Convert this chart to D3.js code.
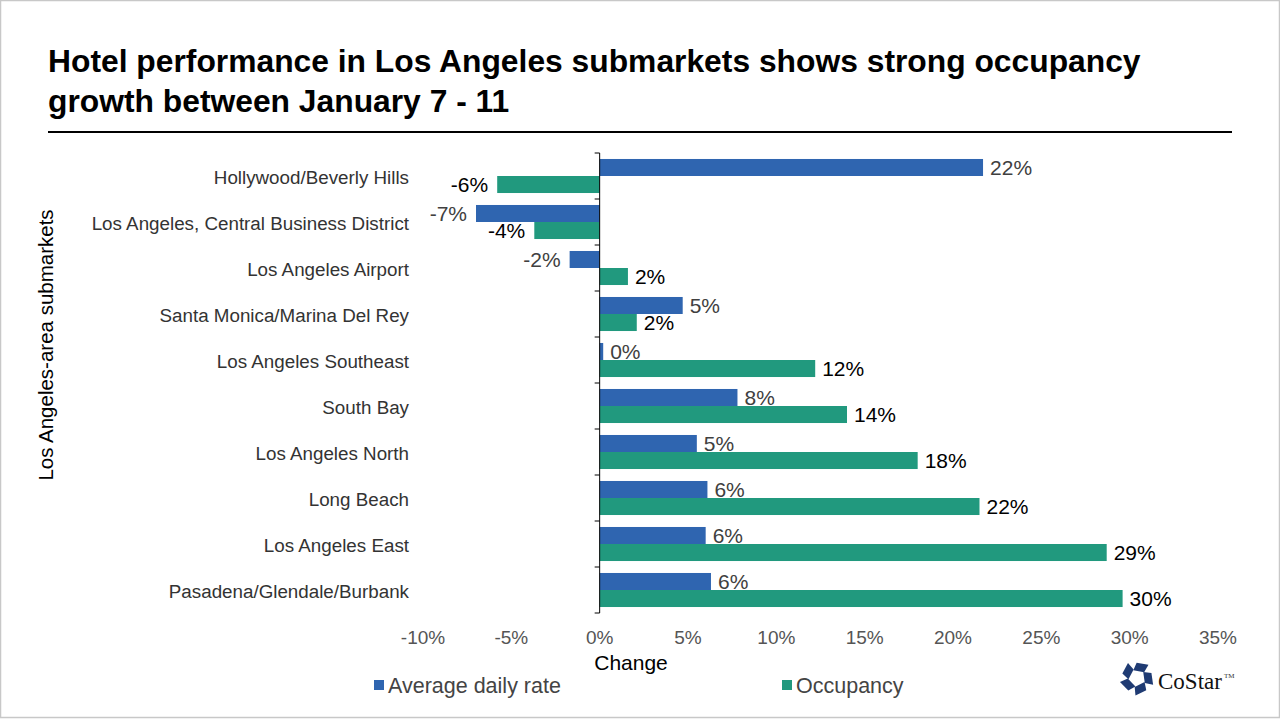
<!DOCTYPE html>
<html>
<head>
<meta charset="utf-8">
<script src="https://cdn.jsdelivr.net/npm/d3@7"></script>
<style>
  html, body { margin: 0; padding: 0; background: #fff; }
  svg { display: block; font-family: "Liberation Sans", Arial, sans-serif; }
</style>
</head>
<body>
<svg id="chart" width="1280" height="719"></svg>
<script>
const categories = [
  "Hollywood/Beverly Hills",
  "Los Angeles, Central Business District",
  "Los Angeles Airport",
  "Santa Monica/Marina Del Rey",
  "Los Angeles Southeast",
  "South Bay",
  "Los Angeles North",
  "Long Beach",
  "Los Angeles East",
  "Pasadena/Glendale/Burbank"
];
const adrValues = [21.7, -7.0, -1.7, 4.7, 0.2, 7.8, 5.5, 6.1, 6.0, 6.3];
const adrLabels = ["22%", "-7%", "-2%", "5%", "0%", "8%", "5%", "6%", "6%", "6%"];
const occValues = [-5.8, -3.7, 1.6, 2.1, 12.2, 14.0, 18.0, 21.5, 28.7, 29.6];
const occLabels = ["-6%", "-4%", "2%", "2%", "12%", "14%", "18%", "22%", "29%", "30%"];
const xTicks = [-10, -5, 0, 5, 10, 15, 20, 25, 30, 35];
const seriesNames = ["Average daily rate", "Occupancy"];
const seriesColors = ["#2F65B0", "#21997E"];

const svg = d3.select("#chart");

// border
svg.append("rect").attr("x", 0.5).attr("y", 0.5).attr("width", 1279).attr("height", 717)
  .attr("fill", "#fff").attr("stroke", "#c8c8c8").attr("stroke-width", 1.5);

// title
const title = svg.append("text").attr("x", 48).attr("font-weight", "bold")
  .attr("font-size", 31.8).attr("fill", "#000");
title.append("tspan").attr("x", 48).attr("y", 72).text("Hotel performance in Los Angeles submarkets shows strong occupancy");
title.append("tspan").attr("x", 48).attr("y", 112).text("growth between January 7 - 11");
svg.append("line").attr("x1", 48).attr("x2", 1232).attr("y1", 132).attr("y2", 132)
  .attr("stroke", "#000").attr("stroke-width", 2);

// scales
const x = d3.scaleLinear().domain([-10, 35]).range([423, 1218]);
const y = d3.scaleBand().domain(categories).range([153, 613]).paddingInner(0.26).paddingOuter(0.13);
const sub = d3.scaleBand().domain(seriesNames).range([0, y.bandwidth()]).padding(0);

const x0 = x(0);

// bars
const series = [
  { name: seriesNames[0], values: adrValues, labels: adrLabels, color: seriesColors[0], textColor: "#404040" },
  { name: seriesNames[1], values: occValues, labels: occLabels, color: seriesColors[1], textColor: "#000" }
];

series.forEach(s => {
  const g = svg.append("g");
  g.selectAll("rect").data(categories).join("rect")
    .attr("x", (d, i) => Math.min(x(s.values[i]), x0))
    .attr("width", (d, i) => Math.abs(x(s.values[i]) - x0))
    .attr("y", d => y(d) + sub(s.name))
    .attr("height", sub.bandwidth())
    .attr("fill", s.color);
  g.selectAll("text").data(categories).join("text")
    .attr("x", (d, i) => s.values[i] >= 0 ? x(s.values[i]) + 7 : x(s.values[i]) - 9)
    .attr("text-anchor", (d, i) => s.values[i] >= 0 ? "start" : "end")
    .attr("y", d => y(d) + sub(s.name) + sub.bandwidth() / 2)
    .attr("dy", "0.36em")
    .attr("font-size", 21)
    .attr("fill", s.textColor)
    .text((d, i) => s.labels[i]);
});

// y axis (at zero)
const yAxisG = svg.append("g").attr("transform", `translate(${x0},0)`);
yAxisG.append("line").attr("x1", 0).attr("x2", 0).attr("y1", 153).attr("y2", 613)
  .attr("stroke", "#000").attr("stroke-width", 1);
const boundaries = categories.map(c => y(c) - y.step() * y.paddingInner() / 2);
boundaries.push(613);
boundaries[0] = 153;
yAxisG.selectAll("line.tk").data(boundaries).join("line").attr("class", "tk")
  .attr("x1", -5).attr("x2", 0).attr("y1", d => d).attr("y2", d => d)
  .attr("stroke", "#000");

// category labels
svg.append("g").selectAll("text").data(categories).join("text")
  .attr("x", 409).attr("y", d => y(d) + y.bandwidth() / 2 + 1)
  .attr("dy", "0.35em").attr("text-anchor", "end")
  .attr("font-size", 18.8).attr("fill", "#333")
  .text(d => d);

// x tick labels
svg.append("g").selectAll("text").data(xTicks).join("text")
  .attr("x", d => x(d)).attr("y", 637).attr("dy", "0.35em")
  .attr("text-anchor", "middle").attr("font-size", 19).attr("fill", "#555")
  .text(d => d + "%");

// axis titles
svg.append("text").attr("x", 631).attr("y", 663).attr("dy", "0.35em")
  .attr("text-anchor", "middle").attr("font-size", 21).attr("fill", "#000").text("Change");
svg.append("text").attr("transform", "translate(46,345) rotate(-90)")
  .attr("dy", "0.35em").attr("text-anchor", "middle").attr("font-size", 20.5)
  .attr("fill", "#000").text("Los Angeles-area submarkets");

// legend
const legendPos = [374, 782];
seriesNames.forEach((n, i) => {
  svg.append("rect").attr("x", legendPos[i]).attr("y", 680).attr("width", 10).attr("height", 10)
    .attr("fill", seriesColors[i]);
  svg.append("text").attr("x", legendPos[i] + 14).attr("y", 685).attr("dy", "0.35em")
    .attr("font-size", 21.5).attr("fill", "#444").text(n);
});

// CoStar logo
const logo = svg.append("g").attr("transform", "translate(1137,678)");
for (let k = 0; k < 5; k++) {
  logo.append("path")
    .attr("d", "M-5,-7 L6,-7 L9,-15 L-3,-15 Z")
    .attr("transform", `rotate(${k * 72 + 10})`)
    .attr("fill", "#1F3B73");
}
svg.append("text").attr("x", 1158).attr("y", 689)
  .attr("font-family", "'Liberation Serif', 'Times New Roman', serif")
  .attr("font-size", 23).attr("fill", "#111").text("CoStar");
svg.append("text").attr("x", 1224).attr("y", 678)
  .attr("font-family", "'Liberation Serif', serif").attr("font-size", 7).attr("fill", "#333").text("TM");
</script>
</body>
</html>
